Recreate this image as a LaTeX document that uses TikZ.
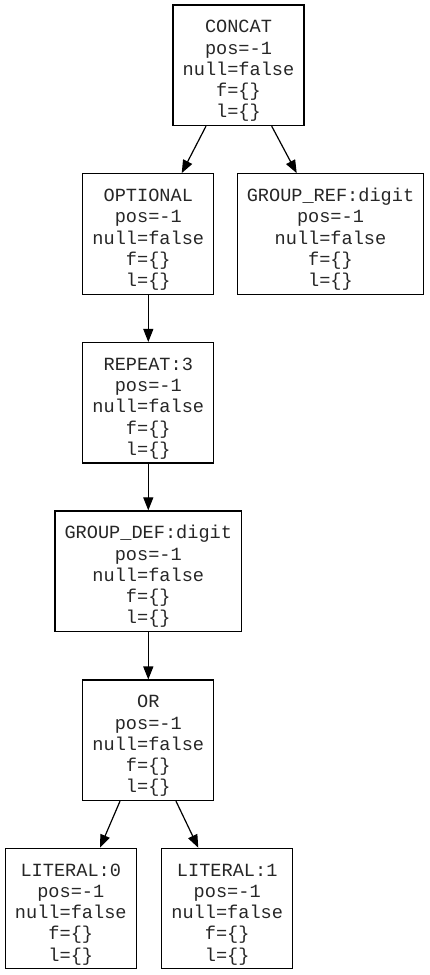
\documentclass[tikz,border=0pt]{standalone}
\usepackage{fontspec}
\newfontfamily\monofam{Liberation Mono}
\usetikzlibrary{arrows.meta}
\newcommand{\topstrut}{\rule{0pt}{24pt}}
\tikzset{
  box/.style={draw, line width=1.2pt, minimum height=120.5pt, minimum width=131pt, inner sep=0pt, align=center,
    text=black!85, font=\fontsize{18.6}{21.2}\selectfont\monofam},
  widebox/.style={box, minimum width=186.7pt},
  edge/.style={line width=1.2pt, -{Triangle[length=13pt,width=10pt]}}
}
\begin{document}
\begin{tikzpicture}[x=1pt,y=1pt]
\useasboundingbox (0,0) rectangle (430,-975);
\node[box] (concat) at (238.5,-65.3) {\topstrut CONCAT\\pos=-1\\null=false\\f=\{\}\\l=\{\}};
\node[box] (optional) at (148.3,-234) {\topstrut OPTIONAL\\pos=-1\\null=false\\f=\{\}\\l=\{\}};
\node[widebox] (groupref) at (330.5,-234) {\topstrut GROUP\_REF:digit\\pos=-1\\null=false\\f=\{\}\\l=\{\}};
\node[box] (repeat) at (148.3,-402.8) {\topstrut REPEAT:3\\pos=-1\\null=false\\f=\{\}\\l=\{\}};
\node[widebox] (groupdef) at (148.3,-571.2) {\topstrut GROUP\_DEF:digit\\pos=-1\\null=false\\f=\{\}\\l=\{\}};
\node[box] (or) at (148.3,-740.3) {\topstrut OR\\pos=-1\\null=false\\f=\{\}\\l=\{\}};
\node[box] (lit0) at (70.8,-908.6) {\topstrut LITERAL:0\\pos=-1\\null=false\\f=\{\}\\l=\{\}};
\node[box] (lit1) at (227.2,-908.6) {\topstrut LITERAL:1\\pos=-1\\null=false\\f=\{\}\\l=\{\}};
\draw[edge] ([xshift=-32.5pt]concat.south) -- ([xshift=33.4pt]optional.north);
\draw[edge] ([xshift=33.2pt]concat.south) -- ([xshift=-33.8pt]groupref.north);
\draw[edge] (optional) -- (repeat);
\draw[edge] (repeat) -- (groupdef);
\draw[edge] (groupdef) -- (or);
\draw[edge] ([xshift=-28.3pt]or.south) -- ([xshift=29.2pt]lit0.north);
\draw[edge] ([xshift=27.7pt]or.south) -- ([xshift=-28.9pt]lit1.north);
\end{tikzpicture}
\end{document}
